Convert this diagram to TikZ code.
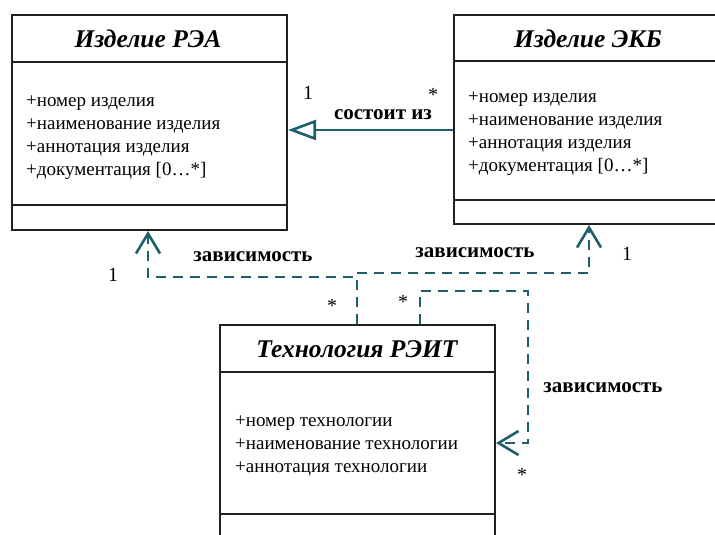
\documentclass[tikz,border=0pt]{standalone}
\usepackage{fontspec}
\setmainfont{Liberation Serif}
\usetikzlibrary{arrows.meta}
\definecolor{teal1}{HTML}{1F5F6B}
\definecolor{ink}{HTML}{231F20}
\begin{document}
\begin{tikzpicture}[x=1pt,y=-1pt,
  box/.style={draw=ink, line width=2pt, inner sep=0pt, anchor=north west},
  sep/.style={draw=ink, line width=2pt},
  title/.style={font=\fontsize{25.5}{30}\selectfont\bfseries\itshape, inner sep=0pt},
  attrs/.style={font=\fontsize{19}{23}\selectfont, align=left, anchor=north west, inner sep=0pt},
  lbl/.style={font=\fontsize{21}{24}\selectfont\bfseries, inner sep=0pt},
  mult/.style={font=\fontsize{20}{22}\selectfont, inner sep=0pt},
  dep/.style={draw=teal1, line width=2.8pt, dash pattern=on 10pt off 7pt, -{Straight Barb[length=20pt,width=24pt,line width=2.6pt]}},
  assoc/.style={draw=teal1, line width=2.6pt, -{Triangle[open,length=28pt,width=20pt,line width=2.6pt]}}]
\useasboundingbox (0,0) rectangle (715,535);
% boxes
\node[box, minimum width=275pt, minimum height=215pt] (rea) at (11,14) {};
\draw[sep] (11,62) -- (286,62);
\draw[sep] (11,205) -- (286,205);
\node[title] (reat) at (148,39) {Изделие РЭА};
\node[attrs] (reaa) at (26,96) {+номер изделия\\+наименование изделия\\+аннотация изделия\\+документация [0…*]};

\node[box, minimum width=275pt, minimum height=209pt] (ekb) at (453,14) {};
\draw[sep] (453,61) -- (728,61);
\draw[sep] (453,200) -- (728,200);
\node[title] (ekbt) at (588,39) {Изделие ЭКБ};
\node[attrs] (ekba) at (468,92) {+номер изделия\\+наименование изделия\\+аннотация изделия\\+документация [0…*]};

\node[box, minimum width=275pt, minimum height=230pt] (tech) at (219,324) {};
\draw[sep] (219,372) -- (494,372);
\draw[sep] (219,514) -- (494,514);
\node[title] (techt) at (357,349) {Технология РЭИТ};
\node[attrs] (techa) at (235,416) {+номер технологии\\+наименование технологии\\+аннотация технологии};

% association
\coordinate (s) at (0,130);
\draw[assoc] (s -| ekb.west) -- (s -| rea.east);
\node[lbl] (l0) at (383,115) {состоит из};
\node[mult] (m1) at (308,93) {1};
\node[mult] (m2) at (433,95) {*};

% dependencies
\coordinate (a1) at (357,277);
\coordinate (a2) at (148,277);
\draw[dep] (a1 |- tech.north) -- (a1) -- (a2) -- (a2 |- rea.south);
\coordinate (b1) at (357,273);
\coordinate (b2) at (589,273);
\draw[dep] (b1 |- tech.north) -- (b1) -- (b2) -- (b2 |- ekb.south);
\coordinate (c1) at (420,291);
\coordinate (c2) at (528,291);
\coordinate (c3) at (528,443);
\draw[dep] (c1 |- tech.north) -- (c1) -- (c2) -- (c3) -- (c3 -| tech.east);

\node[lbl] (l1) at (253,257) {зависимость};
\node[lbl] (l2) at (475,253) {зависимость};
\node[lbl] (l3) at (603,388) {зависимость};
\node[mult] (m3) at (113,275) {1};
\node[mult] (m4) at (627,254) {1};
\node[mult] (m5) at (332,306) {*};
\node[mult] (m6) at (403,302) {*};
\node[mult] (m7) at (522,475) {*};
\end{tikzpicture}
\end{document}
